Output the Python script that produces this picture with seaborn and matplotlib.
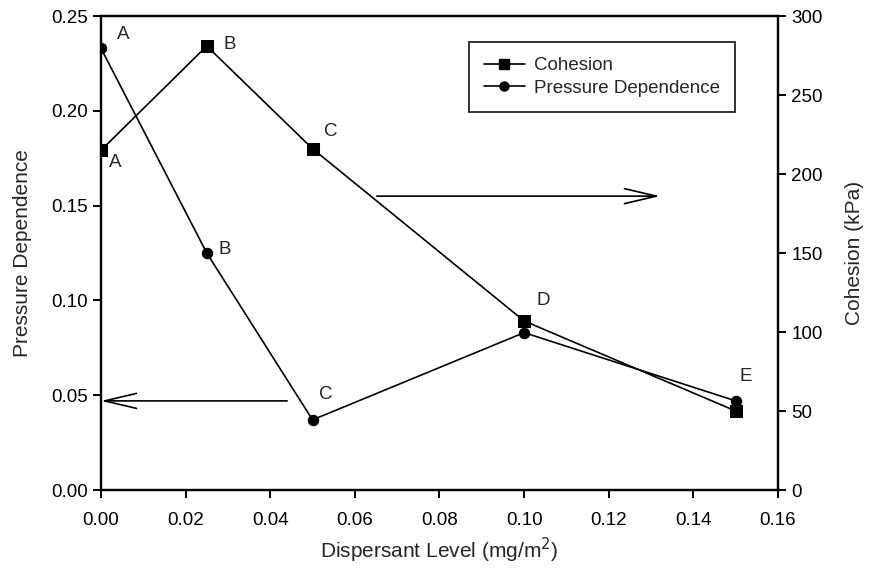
import matplotlib
matplotlib.use("Agg")
import matplotlib.pyplot as plt
from matplotlib.lines import Line2D
import seaborn as sns
import pandas as pd

# Dispersant levels (mg/m^2) and the measured properties
dispersant = [0.0, 0.025, 0.05, 0.10, 0.15]
pressure_dep = [0.233, 0.125, 0.037, 0.083, 0.047]
cohesion_kpa = [215, 281, 216, 107, 50]
point_labels = ["A", "B", "C", "D", "E"]

df = pd.DataFrame({"x": dispersant, "pd": pressure_dep, "coh": cohesion_kpa})

sns.set_style("ticks")
plt.rcParams["font.family"] = ["Liberation Sans", "DejaVu Sans"]
plt.rcParams["font.size"] = 13.5

fig = plt.figure(figsize=(8.69, 5.76), dpi=100)
ax = fig.add_axes([0.1162, 0.1493, 0.7791, 0.8229])
ax2 = ax.twinx()

sns.lineplot(data=df, x="x", y="pd", ax=ax, color="black", marker="o",
             markersize=7.5, markeredgecolor="black", linewidth=1.2)
sns.lineplot(data=df, x="x", y="coh", ax=ax2, color="black", marker="s",
             markersize=8.5, markeredgecolor="black", linewidth=1.2)

ax.set_xlim(0, 0.16)
ax.set_ylim(0, 0.25)
ax2.set_ylim(0, 300)
ax.set_xticks([0, 0.02, 0.04, 0.06, 0.08, 0.10, 0.12, 0.14, 0.16])
ax.set_xticklabels(["0.00", "0.02", "0.04", "0.06", "0.08", "0.10", "0.12", "0.14", "0.16"])
ax.set_yticks([0, 0.05, 0.10, 0.15, 0.20, 0.25])
ax.set_yticklabels(["0.00", "0.05", "0.10", "0.15", "0.20", "0.25"])
ax2.set_yticks([0, 50, 100, 150, 200, 250, 300])

for a in (ax, ax2):
    for s in a.spines.values():
        s.set_visible(True)
        s.set_linewidth(1.6)
        s.set_color("black")
    a.tick_params(direction="out", length=6, width=1.4, labelsize=13.5, colors="black")
ax.tick_params(axis="x", pad=10)

ax.set_xlabel("Dispersant Level (mg/m$^2$)", fontsize=15, labelpad=5)
ax.set_ylabel("Pressure Dependence", fontsize=15, labelpad=14)
ax2.set_ylabel("Cohesion (kPa)", fontsize=15, labelpad=16)

# Point letters for the pressure-dependence curve
pd_offsets = [(11.5, 10), (8.6, 2.5), (4.3, 18)]
for i, lab in enumerate(point_labels[:3]):
    ax.annotate(lab, (dispersant[i], pressure_dep[i]), xytext=pd_offsets[i],
                textcoords="offset points", fontsize=13.5, ha="left", va="center")

# Point letters for the cohesion curve
coh_offsets = [(5.8, -8.6), (12, 1.4), (8, 12.5), (8.6, 15), (2.5, 24.5)]
for i, lab in enumerate(point_labels):
    ax2.annotate(lab, (dispersant[i], cohesion_kpa[i]), xytext=coh_offsets[i],
                 textcoords="offset points", fontsize=13.5, ha="left", va="center")

# Arrows pointing each curve to its axis
arrow = dict(arrowstyle="->,head_length=1.7,head_width=0.4", color="black", lw=1.2,
             shrinkA=0, shrinkB=0)
ax.annotate("", xy=(0.0, 0.047), xytext=(0.0440, 0.047), arrowprops=arrow)
ax.annotate("", xy=(0.1321, 0.155), xytext=(0.0652, 0.155), arrowprops=arrow)

handles = [
    Line2D([], [], color="black", marker="s", markersize=7.5, lw=1.2),
    Line2D([], [], color="black", marker="o", markersize=6.5, lw=1.2),
]
leg = ax2.legend(handles, ["Cohesion", "Pressure Dependence"],
                 loc="upper left", bbox_to_anchor=(0.543, 0.945),
                 frameon=True, fancybox=False, fontsize=13.5,
                 handlelength=2.2, borderpad=0.8, labelspacing=0.3,
                 handletextpad=0.5, borderaxespad=0)
leg.get_frame().set_edgecolor("black")
leg.get_frame().set_linewidth(1.4)

fig.savefig("out.png", dpi=100)
